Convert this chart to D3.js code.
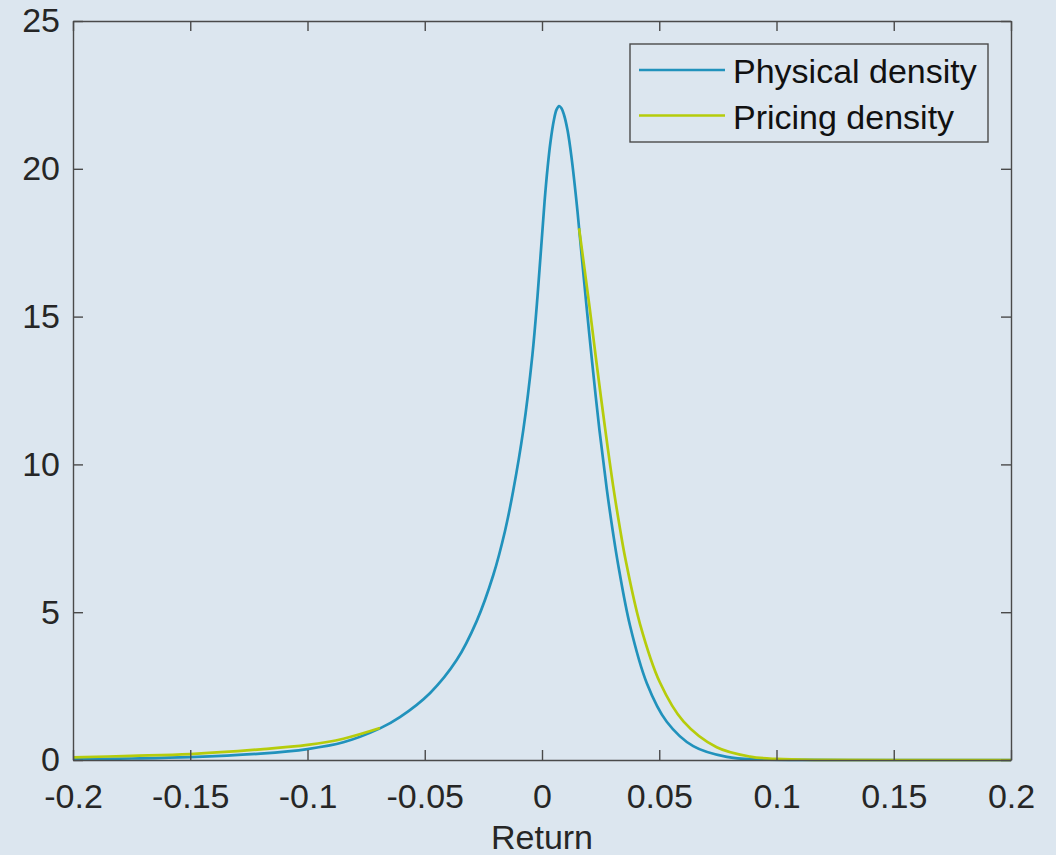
<!DOCTYPE html>
<html>
<head>
<meta charset="utf-8">
<script src="https://cdn.jsdelivr.net/npm/d3@7"></script>
<style>
  html, body { margin: 0; padding: 0; background: #dce6ef; }
  svg { display: block; }
  text { font-family: "Liberation Sans", Arial, Helvetica, sans-serif; fill: #262626; }
</style>
</head>
<body>
<svg id="chart" width="1056" height="855"></svg>
<script>
// Physical (real-world) return density
const physicalX = [-0.200, -0.175, -0.150, -0.120, -0.100, -0.0847, -0.0691, -0.0606, -0.0478, -0.0364,
  -0.0279, -0.0208, -0.0158, -0.0123, -0.0080, -0.0041, -0.0019, -0.0003, 0.0011, 0.0024,
  0.0036, 0.0051, 0.0062, 0.0073, 0.0083, 0.0094, 0.0109, 0.0126, 0.0147, 0.0158,
  0.0190, 0.0213, 0.0245, 0.0276, 0.0304, 0.0325, 0.0375, 0.0447, 0.0532, 0.0645,
  0.0788, 0.0930, 0.110, 0.130, 0.160, 0.200];
const physicalY = [0.026, 0.050, 0.095, 0.215, 0.37, 0.60, 1.07, 1.45, 2.26, 3.38,
  4.69, 6.25, 7.74, 9.10, 11.15, 13.70, 15.70, 17.40, 18.90, 20.05,
  20.90, 21.66, 22.00, 22.12, 22.05, 21.82, 21.30, 20.38, 18.90, 18.00,
  15.34, 13.52, 11.16, 9.18, 7.63, 6.60, 4.56, 2.60, 1.295, 0.468,
  0.104, 0.019, 0.003, 0.0003, 0.0, 0.0];

// Pricing (risk-neutral) density, shown on the two tails
const pricingLeftX = [-0.200, -0.175, -0.150, -0.120, -0.100, -0.0847, -0.0691];
const pricingLeftY = [0.09, 0.14, 0.20, 0.36, 0.51, 0.72, 1.08];
const pricingRightX = [0.0158, 0.0203, 0.0230, 0.0267, 0.0303, 0.0333, 0.0356, 0.0418, 0.0503,
  0.0603, 0.0745, 0.0887, 0.1001, 0.120, 0.150, 0.200];
const pricingRightY = [17.99, 15.31, 13.59, 11.34, 9.29, 7.81, 6.79, 4.60, 2.62,
  1.306, 0.430, 0.116, 0.035, 0.004, 0.0002, 0.0];

const xTicks = [-0.2, -0.15, -0.1, -0.05, 0, 0.05, 0.1, 0.15, 0.2];
const xTickLabels = ["-0.2", "-0.15", "-0.1", "-0.05", "0", "0.05", "0.1", "0.15", "0.2"];
const yTicks = [0, 5, 10, 15, 20, 25];
const seriesNames = ["Physical density", "Pricing density"];
const seriesColors = ["#2192bc", "#b6cc0b"];
const xTitle = "Return";

const svg = d3.select("#chart");
const plotBox = { left: 73, right: 1011, top: 21, bottom: 760 };

const x = d3.scaleLinear().domain([-0.2, 0.2]).range([plotBox.left, plotBox.right]);
const y = d3.scaleLinear().domain([0, 25]).range([plotBox.bottom, plotBox.top]);

const axisColor = "#4a4a4a";
const tickLen = 10;
const fontSize = 34;

// Curves
const line = d3.line()
  .x(d => x(d[0]))
  .y(d => y(d[1]))
  .curve(d3.curveCatmullRom.alpha(0.5));

const zip = (a, b) => a.map((v, i) => [v, b[i]]);

const plot = svg.append("g");
plot.append("path")
  .attr("d", line(zip(physicalX, physicalY)))
  .attr("fill", "none").attr("stroke", seriesColors[0]).attr("stroke-width", 2.7)
  .attr("stroke-linejoin", "round");
[zip(pricingLeftX, pricingLeftY), zip(pricingRightX, pricingRightY)].forEach(seg => {
  plot.append("path")
    .attr("d", line(seg))
    .attr("fill", "none").attr("stroke", seriesColors[1]).attr("stroke-width", 2.7)
    .attr("stroke-linejoin", "round");
});

// Axes: bottom/left with labels, top/right mirrored ticks, all pointing inward
function styleAxis(g) {
  g.select(".domain").attr("stroke", axisColor).attr("stroke-width", 1.4);
  g.selectAll(".tick line").attr("stroke", axisColor).attr("stroke-width", 1.4);
  g.selectAll(".tick text").attr("fill", "#262626")
    .style("font-size", fontSize + "px")
    .style("font-family", '"Liberation Sans", Arial, sans-serif');
}

const xAxis = d3.axisBottom(x).tickValues(xTicks)
  .tickFormat((d, i) => xTickLabels[i]).tickSizeInner(-tickLen).tickSizeOuter(0).tickPadding(24);
svg.append("g").attr("transform", `translate(0,${plotBox.bottom})`).call(xAxis).call(styleAxis)
  .selectAll(".tick text").attr("dy", "0.71em").attr("y", 24);

svg.append("g").attr("transform", `translate(0,${plotBox.top})`)
  .call(d3.axisTop(x).tickValues(xTicks).tickFormat("").tickSizeInner(-tickLen).tickSizeOuter(0))
  .call(styleAxis);

const yAxis = d3.axisLeft(y).tickValues(yTicks).tickSizeInner(-tickLen).tickSizeOuter(0).tickPadding(13);
svg.append("g").attr("transform", `translate(${plotBox.left},0)`).call(yAxis).call(styleAxis)
  .selectAll(".tick text").attr("x", -13);

svg.append("g").attr("transform", `translate(${plotBox.right},0)`)
  .call(d3.axisRight(y).tickValues(yTicks).tickFormat("").tickSizeInner(-tickLen).tickSizeOuter(0))
  .call(styleAxis);

// X axis title
svg.append("text")
  .attr("x", (plotBox.left + plotBox.right) / 2).attr("y", 849)
  .attr("text-anchor", "middle")
  .style("font-size", fontSize + "px")
  .text(xTitle);

// Legend
const legend = svg.append("g");
legend.append("rect")
  .attr("x", 630).attr("y", 44).attr("width", 358).attr("height", 98)
  .attr("fill", "#dce6ef").attr("stroke", axisColor).attr("stroke-width", 1.4);
seriesNames.forEach((name, i) => {
  const ly = 70 + i * 45.5;
  legend.append("line")
    .attr("x1", 639).attr("x2", 725).attr("y1", ly).attr("y2", ly)
    .attr("stroke", seriesColors[i]).attr("stroke-width", 2.7);
  legend.append("text")
    .attr("x", 733).attr("y", ly + 13)
    .style("font-size", fontSize + "px")
    .style("fill", "#111")
    .text(name);
});
</script>
</body>
</html>
